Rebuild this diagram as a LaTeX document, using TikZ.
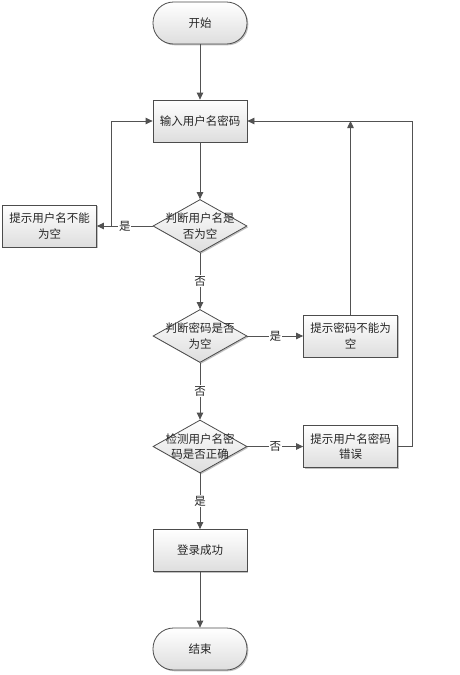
\documentclass[tikz,border=0pt]{standalone}
\usepackage{fontspec}
\newfontfamily\cjk{Noto Sans CJK SC}
\usetikzlibrary{arrows.meta,shapes.geometric,shadows}
\tikzset{
  every node/.style={font=\cjk\fontsize{11.5}{15.5}\selectfont, text=black!85},
  shad/.style={drop shadow={shadow xshift=1.3pt, shadow yshift=-1.3pt, fill=black!40, opacity=0.6}},
  box/.style={shad, draw=black!70, line width=0.8pt, minimum width=94pt, minimum height=42pt, inner sep=0pt, align=center, top color=white, bottom color=black!13},
  term/.style={box, rounded corners=20.5pt},
  dia/.style={shad, diamond, draw=black!70, line width=0.8pt, minimum width=94pt, minimum height=53pt, inner sep=0pt, top color=white, bottom color=black!13},
  txt/.style={align=center, inner sep=0pt},
  conn/.style={draw=black!68, line width=0.8pt, -{Triangle[length=7pt,width=6.5pt]}},
  lab/.style={fill=white, inner sep=1pt}
}
\begin{document}
\begin{tikzpicture}[x=1pt,y=-1pt]
\useasboundingbox[fill=white] (0,0) rectangle (459,675);
\node[term] (start) at (200,23) {开始};
\node[box] (input) at (200,121) {输入用户名密码};
\node[dia] (d1) at (200,226) {};
\node[txt] (d1t) at (d1) {判断用户名是\\否为空};
\node[box] (b1) at (49.5,226) {提示用户名不能\\为空};
\node[dia] (d2) at (200,336) {};
\node[txt] (d2t) at (d2) {判断密码是否\\为空};
\node[box] (b2) at (350.5,336) {提示密码不能为\\空};
\node[dia] (d3) at (200,446.5) {};
\node[txt] (d3t) at (d3) {检测用户名密\\码是否正确};
\node[box] (b3) at (350.5,446.5) {提示用户名密码\\错误};
\node[box] (ok) at (200,550.5) {登录成功};
\node[term] (end) at (200,649) {结束};
\coordinate (j1) at (111,226);
\draw[conn] (start) -- (input);
\draw[conn] (input) -- (d1);
\draw[conn] (d1) -- node[lab]{是} (b1);
\draw[conn] (j1) |- (input.west);
\draw[conn] (d1) -- node[lab]{否} (d2);
\draw[conn] (d2) -- node[lab]{是} (b2);
\draw[conn] (b2) -- (b2.north |- input.east);
\draw[conn] (d2) -- node[lab]{否} (d3);
\draw[conn] (d3) -- node[lab]{否} (b3);
\draw[conn] (b3.east) -- ++(14,0) |- (input.east);
\draw[conn] (d3) -- node[lab]{是} (ok);
\draw[conn] (ok) -- (end);
\end{tikzpicture}
\end{document}
